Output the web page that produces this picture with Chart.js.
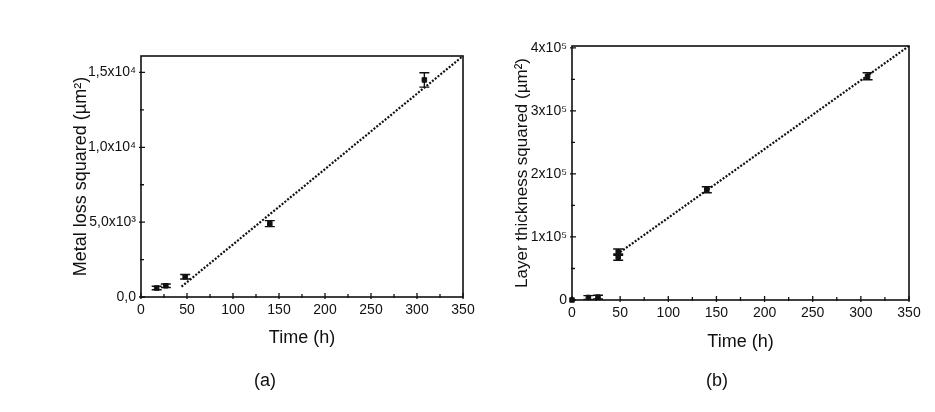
<!DOCTYPE html>
<html>
<head>
  <title>Metal loss and layer thickness squared vs time</title>
  <script src="https://cdn.jsdelivr.net/npm/chart.js"></script>
  <style>
    body {
      margin: 0;
      background: #fff;
      width: 935px;
      height: 412px;
      position: relative;
      overflow: hidden;
      font-family: Arial, "Liberation Sans", sans-serif;
    }
    .box {
      position: absolute;
      top: 0;
      height: 412px;
    }
    .cap {
      position: absolute;
      font-size: 18px;
      color: #111;
      transform: translate(-50%, -50%);
    }
  </style>
</head>
<body>
  <div class="box" style="left:0;width:480px"><canvas id="chartA"></canvas></div>
  <div class="box" style="left:480px;width:455px"><canvas id="chartB"></canvas></div>
  <div class="cap" style="left:265px;top:380px">(a)</div>
  <div class="cap" style="left:717px;top:380px">(b)</div>

  <script>
    // (a) metal loss squared
    const timeA = [17, 27, 48, 140, 308];
    const lossA = [600, 750, 1350, 4900, 14500];
    const errA = [120, 120, 150, 200, 480];
    const fitTimeA = [44, 350];
    const fitLossA = [690, 16100];
    const yTicksA = [0, 5000, 10000, 15000];
    const yLabelsA = ['0,0', '5,0x10³', '1,0x10⁴', '1,5x10⁴'];
    const yMinorA = [2500, 7500, 12500];

    // (b) layer thickness squared
    const timeB = [0, 17, 27, 48, 48, 140, 307];
    const thickB = [0, 4000, 4500, 76000, 68000, 175000, 355000];
    const errB = [0, 3000, 3000, 5000, 5000, 4800, 5500];
    const fitTimeB = [50, 350];
    const fitThickB = [76000, 403000];
    const yTicksB = [0, 100000, 200000, 300000, 400000];
    const yLabelsB = ['0', '1x10⁵', '2x10⁵', '3x10⁵', '4x10⁵'];
    const yMinorB = [50000, 150000, 250000, 350000];

    const xTicks = [0, 50, 100, 150, 200, 250, 300, 350];
    const xMinor = [25, 75, 125, 175, 225, 275, 325];

    const INK = '#111';
    const FONT = 'Arial, "Liberation Sans", sans-serif';

    // box + ticks crossing the axes
    const framePlugin = {
      id: 'frame',
      beforeDatasetsDraw(chart, args, opts) {
        const { ctx, chartArea: a, scales: { x, y } } = chart;
        ctx.save();
        ctx.strokeStyle = INK;
        ctx.lineWidth = 1.6;
        ctx.strokeRect(a.left, a.top, a.right - a.left, a.bottom - a.top);
        ctx.lineWidth = 1.3;
        ctx.beginPath();
        opts.xMajor.forEach(v => {
          const px = x.getPixelForValue(v);
          ctx.moveTo(px, a.bottom + 2); ctx.lineTo(px, a.bottom - 4);
        });
        opts.xMinor.forEach(v => {
          const px = x.getPixelForValue(v);
          ctx.moveTo(px, a.bottom + 1); ctx.lineTo(px, a.bottom - 3);
        });
        opts.yMajor.forEach(v => {
          const py = y.getPixelForValue(v);
          ctx.moveTo(a.left - 2, py); ctx.lineTo(a.left + 4, py);
        });
        opts.yMinor.forEach(v => {
          const py = y.getPixelForValue(v);
          ctx.moveTo(a.left - 1, py); ctx.lineTo(a.left + 3, py);
        });
        ctx.stroke();
        ctx.restore();
      }
    };

    // vertical error bars with caps
    const errorPlugin = {
      id: 'errbars',
      afterDatasetsDraw(chart, args, opts) {
        const { ctx, scales: { x, y } } = chart;
        const pts = chart.data.datasets[0].data;
        ctx.save();
        ctx.strokeStyle = INK;
        ctx.lineWidth = 1.4;
        ctx.beginPath();
        pts.forEach((p, i) => {
          const e = opts.err[i];
          if (!e) return;
          const px = x.getPixelForValue(p.x);
          const top = y.getPixelForValue(p.y + e);
          const bot = y.getPixelForValue(p.y - e);
          ctx.moveTo(px, top); ctx.lineTo(px, bot);
          ctx.moveTo(px - 5, top); ctx.lineTo(px + 5, top);
          ctx.moveTo(px - 5, bot); ctx.lineTo(px + 5, bot);
        });
        ctx.stroke();
        ctx.restore();
      }
    };

    function makeChart(id, cfg) {
      const points = cfg.time.map((t, i) => ({ x: t, y: cfg.vals[i] }));
      const fit = cfg.fitX.map((t, i) => ({ x: t, y: cfg.fitY[i] }));
      return new Chart(document.getElementById(id), {
        type: 'scatter',
        data: {
          datasets: [{
            data: points,
            pointStyle: 'rect',
            pointRadius: 3.2,
            backgroundColor: INK,
            borderColor: INK,
            borderWidth: 1,
            clip: false
          }, {
            data: fit,
            showLine: true,
            pointRadius: 0,
            borderColor: INK,
            borderWidth: 2.2,
            borderDash: [2, 1.6],
            clip: false
          }]
        },
        options: {
          responsive: true,
          maintainAspectRatio: false,
          animation: false,
          layout: { padding: cfg.padding },
          plugins: {
            legend: { display: false },
            tooltip: { enabled: false },
            frame: { xMajor: xTicks, xMinor: xMinor, yMajor: cfg.yTicks, yMinor: cfg.yMinor },
            errbars: { err: cfg.err }
          },
          scales: {
            x: {
              type: 'linear',
              min: 0,
              max: 350,
              afterBuildTicks: s => { s.ticks = xTicks.map(v => ({ value: v })); },
              afterFit: s => { s.height = cfg.xHeight; },
              grid: { display: false, drawTicks: false },
              border: { display: false },
              ticks: { autoSkip: false, maxRotation: 0, padding: 5, color: INK, font: { family: FONT, size: 14 } },
              title: { display: true, text: 'Time (h)', color: INK, padding: 0, font: { family: FONT, size: 18 } }
            },
            y: {
              min: 0,
              max: cfg.yMax,
              afterBuildTicks: s => { s.ticks = cfg.yTicks.map(v => ({ value: v })); },
              afterFit: s => { s.width = cfg.yWidth; },
              grid: { display: false, drawTicks: false },
              border: { display: false },
              ticks: {
                autoSkip: false,
                padding: 5,
                color: INK,
                font: { family: FONT, size: 14 },
                callback: (v, i) => cfg.yLabels[i]
              },
              title: { display: true, text: cfg.yTitle, color: INK, padding: 0, font: { family: FONT, size: cfg.yTitleSize } }
            }
          }
        },
        plugins: [framePlugin, errorPlugin]
      });
    }

    makeChart('chartA', {
      time: timeA, vals: lossA, err: errA, fitX: fitTimeA, fitY: fitLossA,
      yMax: 16100, yTicks: yTicksA, yLabels: yLabelsA, yMinor: yMinorA,
      yTitle: 'Metal loss squared (µm²)', yTitleSize: 18,
      padding: { left: 70, right: 17, top: 56, bottom: 63 },
      yWidth: 71, xHeight: 52
    });

    makeChart('chartB', {
      time: timeB, vals: thickB, err: errB, fitX: fitTimeB, fitY: fitThickB,
      yMax: 403000, yTicks: yTicksB, yLabels: yLabelsB, yMinor: yMinorB,
      yTitle: 'Layer thickness squared (µm²)', yTitleSize: 17,
      padding: { left: 32, right: 26, top: 46, bottom: 59 },
      yWidth: 60, xHeight: 53
    });
  </script>
</body>
</html>
